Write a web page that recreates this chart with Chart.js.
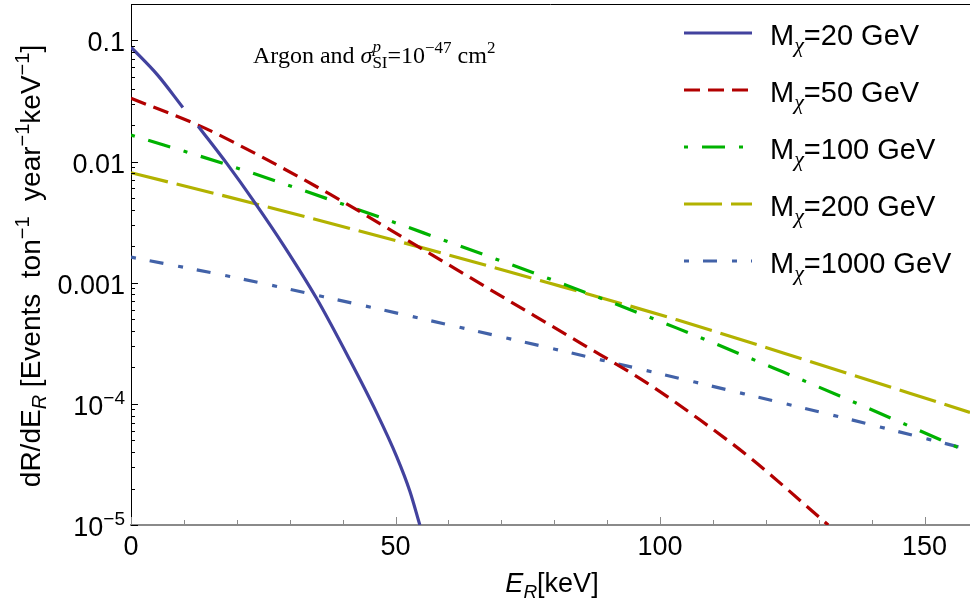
<!DOCTYPE html>
<html>
<head>
<meta charset="utf-8">
<script src="https://cdn.jsdelivr.net/npm/chart.js@4.4.1/dist/chart.umd.min.js"></script>
<style>
  body { margin: 0; background: #fff; }
  #c { display: block; }
</style>
</head>
<body>
<canvas id="c" width="970" height="608"></canvas>
<script>
// values (E_R in keV, rate in events / ton / year / keV)
const masses = ['20', '50', '100', '200', '1000'];

const e20 = [0, 5, 9.8, 11, 12.7, 18.1, 23.4, 29, 35.1, 41.4, 46.4, 50.2, 52.7, 54.6];
const r20 = [0.0881, 0.052, 0.028, null, 0.0196, 0.00966, 0.00459, 0.00199, 7.41e-4, 2.29e-4, 8.51e-5, 3.69e-5, 1.91e-5, 1.0e-5];

const e50 = [0, 12.7, 18.7, 37.6, 54.6, 69.1, 84.9, 97.5, 107.6, 117, 131.8];
const r50 = [0.0333, 0.020, 0.01496, 0.00538, 0.00195, 8.17e-4, 3.19e-4, 1.49e-4, 7.35e-5, 3.6e-5, 1.0e-5];

const e100 = [0, 18.1, 37.6, 55.3, 82.4, 103.2, 123.3, 134, 154.8, 158.6];
const r100 = [0.01656, 0.00944, 0.00485, 0.00258, 9.51e-4, 4.22e-4, 1.83e-4, 1.16e-4, 4.67e-5, 3.94e-5];

const e200 = [0, 23.1, 55.3, 79.2, 103.2, 123.3, 158.6];
const r200 = [0.0081, 0.00453, 0.00193, 9.9e-4, 4.94e-4, 2.63e-4, 8.5e-5];

const e1000 = [0, 18.7, 36.4, 60.3, 79.2, 97.5, 115.7, 134.7, 158.6];
const r1000 = [0.001626, 0.001127, 7.66e-4, 4.47e-4, 2.89e-4, 1.88e-4, 1.216e-4, 7.66e-5, 4.18e-5];

const xMajorTicks = [0, 50, 100, 150];
const xMinorTicks = [10, 20, 30, 40, 60, 70, 80, 90, 110, 120, 130, 140];
const yMajorTicks = [0.1, 0.01, 0.001, 1e-4, 1e-5];
const yTickLabels = [['0.1'], ['0.01'], ['0.001'], ['10', '−4'], ['10', '−5']];

const SANS = '"Liberation Sans", Arial, sans-serif';
const SERIF = '"Liberation Serif", "Times New Roman", serif';

const toPoints = (xs, ys) => xs.map((x, i) => ({ x: x, y: ys[i] }));

const styles = [
  { color: '#42429e', dash: [] },
  { color: '#b20000', dash: [16, 8] },
  { color: '#00b200', dash: [4, 14, 23, 14] },
  { color: '#b2b200', dash: [38, 9] },
  { color: '#4262a8', dash: [5, 14, 14, 15] }
];
const series = [[e20, r20], [e50, r50], [e100, r100], [e200, r200], [e1000, r1000]];

// draw a run of text pieces: [text, font, dy, advanceOverride]
function drawRich(ctx, x, y, parts, align) {
  let w = 0;
  parts.forEach(p => {
    ctx.font = p[1];
    w += p[3] !== undefined ? p[3] : ctx.measureText(p[0]).width;
  });
  let cx = align === 'right' ? x - w : align === 'center' ? x - w / 2 : x;
  parts.forEach(p => {
    ctx.font = p[1];
    ctx.fillText(p[0], cx, y + (p[2] || 0));
    cx += p[3] !== undefined ? p[3] : ctx.measureText(p[0]).width;
  });
}

const decorations = {
  id: 'decorations',
  afterDraw(chart) {
    const ctx = chart.ctx;
    const xs = chart.scales.x, ys = chart.scales.y;
    const area = chart.chartArea;
    ctx.save();

    // top frame line
    ctx.strokeStyle = '#000';
    ctx.lineWidth = 1;
    ctx.beginPath();
    ctx.moveTo(area.left, area.top + 0.5);
    ctx.lineTo(area.right, area.top + 0.5);
    ctx.stroke();

    // y ticks (inward)
    const yMinor = [];
    yMajorTicks.forEach(d => { for (let m = 2; m <= 9; m++) if (m * d <= ys.max) yMinor.push(m * d); });
    ctx.beginPath();
    yMajorTicks.forEach(v => {
      const py = Math.round(ys.getPixelForValue(v)) + 0.5;
      ctx.moveTo(area.left, py); ctx.lineTo(area.left + 7, py);
    });
    yMinor.forEach(v => {
      const py = Math.round(ys.getPixelForValue(v)) + 0.5;
      ctx.moveTo(area.left, py); ctx.lineTo(area.left + 4, py);
    });
    ctx.stroke();

    // x ticks (inward)
    ctx.strokeStyle = '#8a8a8a';
    ctx.beginPath();
    xMajorTicks.forEach(v => {
      const px = Math.round(xs.getPixelForValue(v)) + 0.5;
      ctx.moveTo(px, area.bottom); ctx.lineTo(px, area.bottom - 8);
    });
    xMinorTicks.forEach(v => {
      const px = Math.round(xs.getPixelForValue(v)) + 0.5;
      ctx.moveTo(px, area.bottom); ctx.lineTo(px, area.bottom - 5);
    });
    ctx.stroke();

    ctx.fillStyle = '#000';
    ctx.textBaseline = 'alphabetic';
    const tickFont = '27px ' + SANS;
    const supFont = '19px ' + SANS;

    yMajorTicks.forEach((v, i) => {
      const py = ys.getPixelForValue(v) + 11;
      const lab = yTickLabels[i];
      const parts = [[lab[0], tickFont]];
      if (lab[1]) parts.push([lab[1], supFont, -11]);
      drawRich(ctx, 125, py, parts, 'right');
    });
    xMajorTicks.forEach(v => {
      drawRich(ctx, xs.getPixelForValue(v), 555, [[String(v), tickFont]], 'center');
    });

    // axis titles
    drawRich(ctx, 552, 592, [
      ['E', 'italic 27px ' + SANS],
      ['R', 'italic 19px ' + SANS, 6],
      ['[keV]', '27px ' + SANS]
    ], 'center');

    ctx.save();
    ctx.translate(40, 266);
    ctx.rotate(-Math.PI / 2);
    const tf = '28px ' + SANS, ts = '20px ' + SANS;
    drawRich(ctx, 0, 0, [
      ['dR/dE', tf],
      ['R', 'italic 20px ' + SANS, 6],
      [' [Events  ton', tf],
      ['−1', ts, -11],
      ['  year', tf],
      ['−1', ts, -11],
      ['keV', tf],
      ['−1', ts, -11],
      [']', tf]
    ], 'center');
    ctx.restore();

    // annotation
    drawRich(ctx, 253, 63, [
      ['Argon and ', '24px ' + SERIF],
      ['σ', 'italic 24px ' + SERIF],
      ['p', 'italic 17px ' + SERIF, -11, 0],
      ['SI', '17px ' + SERIF, 5],
      ['=10', '24px ' + SERIF],
      ['−47', '17px ' + SERIF, -10],
      [' cm', '24px ' + SERIF],
      ['2', '17px ' + SERIF, -10]
    ], 'left');

    // legend
    chart.data.datasets.forEach((ds, i) => {
      const ly = 33 + i * 57;
      ctx.save();
      ctx.strokeStyle = ds.borderColor;
      ctx.lineWidth = ds.borderWidth;
      ctx.setLineDash(ds.borderDash || []);
      ctx.beginPath();
      ctx.moveTo(684, ly); ctx.lineTo(752, ly);
      ctx.stroke();
      ctx.restore();
      drawRich(ctx, 770, ly + 12, [
        ['M', '29px ' + SANS],
        ['χ', 'italic 22px ' + SERIF, 7],
        ['=' + masses[i] + ' GeV', '29px ' + SANS]
      ], 'left');
    });

    ctx.restore();
  }
};

new Chart(document.getElementById('c'), {
  type: 'line',
  data: {
    datasets: series.map((s, i) => ({
      label: 'Mχ=' + masses[i] + ' GeV',
      data: toPoints(s[0], s[1]),
      borderColor: styles[i].color,
      borderDash: styles[i].dash,
      borderWidth: 3.2,
      pointRadius: 0,
      fill: false,
      spanGaps: false,
      cubicInterpolationMode: 'monotone'
    }))
  },
  options: {
    responsive: false,
    devicePixelRatio: 1,
    animation: false,
    layout: { padding: { left: 131, top: 4, right: 0, bottom: 83 } },
    plugins: { legend: { display: false }, tooltip: { enabled: false } },
    scales: {
      x: {
        type: 'linear', min: 0, max: 158.6,
        ticks: { display: false },
        grid: { display: false, drawTicks: false },
        border: { display: true, color: '#8a8a8a', width: 2 }
      },
      y: {
        type: 'logarithmic', min: 1e-5, max: 0.2,
        ticks: { display: false },
        grid: { display: false, drawTicks: false },
        border: { display: true, color: '#000', width: 1 }
      }
    }
  },
  plugins: [decorations]
});
</script>
</body>
</html>
